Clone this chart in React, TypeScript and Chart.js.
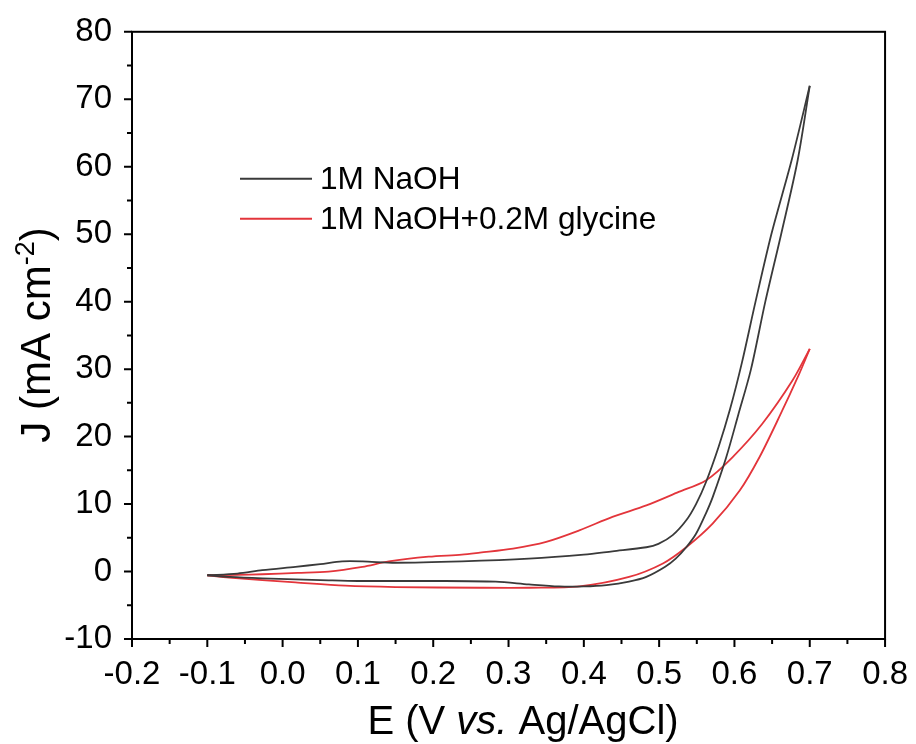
import React, { useEffect, useRef } from "react";
import { Chart, registerables } from "chart.js";

Chart.register(...registerables);

// ---- Data (E in V vs Ag/AgCl, J in mA cm^-2) ----
const naohFwdE = [-0.1, -0.06, -0.027, 0.017, 0.05, 0.079, 0.106, 0.15, 0.238, 0.327, 0.4, 0.438, 0.483, 0.499, 0.518, 0.536, 0.549, 0.562, 0.579, 0.594, 0.61, 0.628, 0.649, 0.676, 0.7];
const naohFwdJ = [-0.55, -0.3, 0.2, 0.7, 1.1, 1.5, 1.5, 1.3, 1.5, 1.9, 2.5, 3.0, 3.6, 4.1, 5.4, 7.6, 10.0, 13.2, 18.5, 24, 31, 40, 50, 61, 72];
const naohRevE = [0.7, 0.684, 0.662, 0.641, 0.622, 0.605, 0.589, 0.571, 0.562, 0.549, 0.536, 0.522, 0.508, 0.483, 0.46, 0.43, 0.4, 0.367, 0.327, 0.283, 0.2, 0.1, 0.061, -0.027, -0.07, -0.1];
const naohRevJ = [72, 61, 50, 40, 30, 23.2, 16.9, 11.0, 8.6, 5.6, 3.6, 1.9, 0.7, -0.8, -1.5, -2.0, -2.2, -2.2, -1.9, -1.5, -1.4, -1.4, -1.3, -1.0, -0.8, -0.55];

const glyFwdE = [-0.1, -0.06, -0.027, 0.02, 0.061, 0.106, 0.141, 0.194, 0.238, 0.262, 0.306, 0.35, 0.394, 0.438, 0.483, 0.526, 0.562, 0.597, 0.637, 0.677, 0.7];
const glyFwdJ = [-0.55, -0.5, -0.4, -0.2, 0.0, 0.7, 1.5, 2.2, 2.5, 2.8, 3.4, 4.4, 6.1, 8.1, 9.8, 11.8, 13.5, 16.9, 21.9, 28.3, 33.0];
const glyRevE = [0.7, 0.686, 0.659, 0.633, 0.607, 0.571, 0.536, 0.505, 0.46, 0.394, 0.328, 0.262, 0.15, 0.083, 0.017, -0.071, -0.1];
const glyRevJ = [33.0, 29.3, 22.8, 16.9, 12.0, 7.1, 3.6, 1.2, -0.8, -2.2, -2.4, -2.4, -2.3, -2.1, -1.6, -0.9, -0.55];

const seriesNames = ["1M NaOH", "1M NaOH+0.2M glycine"];
const seriesColors = ["#3a3a3a", "#e3353b"];

const xMin = -0.2, xMax = 0.8, xStep = 0.1;
const yMin = -10, yMax = 80, yStep = 10;

const FONT = '"Liberation Sans", Arial, sans-serif';

const pts = (xs: number[], ys: number[]) => xs.map((x, i) => ({ x, y: ys[i] }));

const decorPlugin = {
  id: "decor",
  afterDraw(chart: any) {
    const ctx = chart.ctx as CanvasRenderingContext2D;
    const { left, right, top, bottom } = chart.chartArea;
    const xs = chart.scales.x;
    const ys = chart.scales.y;
    ctx.save();
    // frame
    ctx.strokeStyle = "#000";
    ctx.lineWidth = 2;
    ctx.strokeRect(left, top, right - left, bottom - top);
    // ticks
    ctx.beginPath();
    const nx = Math.round((xMax - xMin) / xStep);
    for (let i = 0; i <= nx; i++) {
      const v = xMin + i * xStep;
      const px = xs.getPixelForValue(v);
      ctx.moveTo(px, bottom);
      ctx.lineTo(px, bottom + 8);
      if (i < nx) {
        const pm = xs.getPixelForValue(v + xStep / 2);
        ctx.moveTo(pm, bottom);
        ctx.lineTo(pm, bottom + 5);
      }
    }
    const ny = Math.round((yMax - yMin) / yStep);
    for (let i = 0; i <= ny; i++) {
      const v = yMin + i * yStep;
      const py = ys.getPixelForValue(v);
      ctx.moveTo(left, py);
      ctx.lineTo(left - 8, py);
      if (i < ny) {
        const pm = ys.getPixelForValue(v + yStep / 2);
        ctx.moveTo(left, pm);
        ctx.lineTo(left - 5, pm);
      }
    }
    ctx.stroke();

    // legend
    const legX = left + 108;
    const legY = [top + 147, top + 187];
    seriesNames.forEach((name, i) => {
      ctx.strokeStyle = seriesColors[i];
      ctx.lineWidth = 2;
      ctx.beginPath();
      ctx.moveTo(legX, legY[i]);
      ctx.lineTo(legX + 72, legY[i]);
      ctx.stroke();
      ctx.fillStyle = "#000";
      ctx.font = `31.6px ${FONT}`;
      ctx.textBaseline = "middle";
      ctx.textAlign = "left";
      ctx.fillText(name, legX + 80, legY[i] + 1);
    });

    // x title: E (V vs. Ag/AgCl)
    const parts = [
      { t: "E (V ", f: `40px ${FONT}` },
      { t: "vs.", f: `italic 40px ${FONT}` },
      { t: " Ag/AgCl)", f: `40px ${FONT}` },
    ];
    let tw = 0;
    parts.forEach((p) => { ctx.font = p.f; tw += ctx.measureText(p.t).width; });
    let cx = 523 - tw / 2;
    ctx.textBaseline = "alphabetic";
    ctx.textAlign = "left";
    ctx.fillStyle = "#000";
    parts.forEach((p) => { ctx.font = p.f; ctx.fillText(p.t, cx, 734); cx += ctx.measureText(p.t).width; });

    // y title: J (mA cm-2)
    ctx.save();
    ctx.translate(50, 335);
    ctx.rotate(-Math.PI / 2);
    const yParts = [
      { t: "J (mA cm", f: `42px ${FONT}`, dy: 0 },
      { t: "-2", f: `27px ${FONT}`, dy: -16 },
      { t: ")", f: `42px ${FONT}`, dy: 0 },
    ];
    let yw = 0;
    yParts.forEach((p) => { ctx.font = p.f; yw += ctx.measureText(p.t).width; });
    let yx = -yw / 2;
    yParts.forEach((p) => { ctx.font = p.f; ctx.fillText(p.t, yx, p.dy); yx += ctx.measureText(p.t).width; });
    ctx.restore();

    ctx.restore();
  },
};

export default function App() {
  const ref = useRef<HTMLCanvasElement | null>(null);
  useEffect(() => {
    document.body.style.margin = "0";
    const canvas = ref.current!;
    const mk = (label: string, data: any, color: string) => ({
      label,
      data,
      borderColor: color,
      backgroundColor: color,
      borderWidth: 1.8,
      pointRadius: 0,
      showLine: true,
      tension: 0.3,
      fill: false,
    });
    const chart = new Chart(canvas, {
      type: "scatter",
      data: {
        datasets: [
          mk(seriesNames[0], pts(naohFwdE, naohFwdJ), seriesColors[0]),
          mk(seriesNames[0], pts(naohRevE, naohRevJ), seriesColors[0]),
          mk(seriesNames[1], pts(glyFwdE, glyFwdJ), seriesColors[1]),
          mk(seriesNames[1], pts(glyRevE, glyRevJ), seriesColors[1]),
        ],
      },
      options: {
        responsive: false,
        animation: false,
        layout: { padding: { left: 0, top: 30, right: 30, bottom: 0 } },
        plugins: { legend: { display: false }, tooltip: { enabled: false } },
        scales: {
          x: {
            type: "linear",
            min: xMin,
            max: xMax,
            afterFit: (s: any) => { s.height = 105; },
            afterBuildTicks: (s: any) => {
              const t = [];
              for (let i = 0; i <= Math.round((xMax - xMin) / xStep); i++) t.push({ value: +(xMin + i * xStep).toFixed(1) });
              s.ticks = t;
            },
            ticks: {
              callback: (v: any) => Number(v).toFixed(1),
              font: { size: 33, family: FONT },
              color: "#000",
              padding: 8,
              maxRotation: 0,
              autoSkip: false,
            },
            grid: { display: true, drawOnChartArea: false, color: "rgba(0,0,0,0)", tickLength: 8 },
            border: { display: false },
          },
          y: {
            type: "linear",
            min: yMin,
            max: yMax,
            afterFit: (s: any) => { s.width = 132; },
            ticks: {
              stepSize: yStep,
              font: { size: 33, family: FONT },
              color: "#000",
              padding: 12,
            },
            grid: { display: true, drawOnChartArea: false, color: "rgba(0,0,0,0)", tickLength: 8 },
            border: { display: false },
          },
        },
      },
      plugins: [decorPlugin],
    });
    return () => chart.destroy();
  }, []);
  return <canvas ref={ref} width={916} height={744} style={{ display: "block" }} />;
}
